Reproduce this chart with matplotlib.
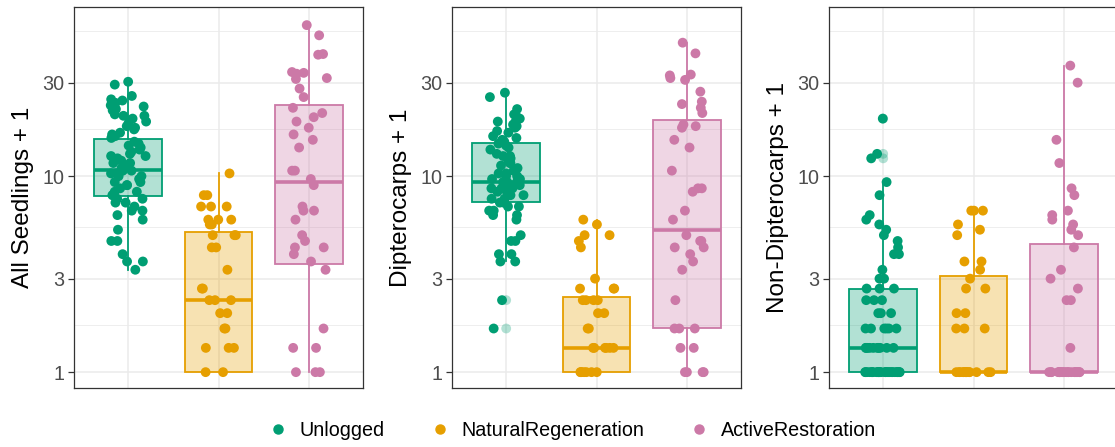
import numpy as np
import matplotlib
matplotlib.use("Agg")
import matplotlib.pyplot as plt
from matplotlib.lines import Line2D

plt.rcParams['font.family'] = ['Liberation Sans', 'DejaVu Sans']

groups = ["Unlogged", "NaturalRegeneration", "ActiveRestoration"]
colors = ["#009E73", "#E69F00", "#CC79A7"]
panel_labels = ["All Seedlings + 1", "Dipterocarps + 1", "Non-Dipterocarps + 1"]

# site means (per plot) + 1
all_unlogged = [29.33, 30.33, 25.67, 24.67, 23.67, 22.67, 21.67, 20.67, 20.33, 19.67,
                20.33, 18.67, 17.33, 16.67, 16, 14.67, 15, 14.33, 13.67, 13,
                12.67, 12.33, 11.67, 11.33, 10.67, 10.67, 10, 9.67, 10, 9.33,
                9, 8.67, 8, 7.67, 7.33, 7.33, 7, 6.33, 6, 5.33,
                4.67, 4.67, 4, 3.67, 3.67, 3.33, 24.33, 23, 22, 19,
                18, 17.67, 16.33, 15.67, 14, 13.33, 12, 11, 11.67, 10.33,
                10.33, 9.33, 9, 8.33, 8.33, 7.67, 8, 6.67, 6.67, 12.67]
all_natural = [10.33, 8, 8, 7, 7, 7, 6, 6, 6, 5.67, 5.67, 5, 5, 5, 4.33, 4.33,
               3.33, 2.67, 2.67, 2.33, 2.33, 2.33, 2, 2, 1.67, 1.67, 1.33, 1.33,
               1.33, 1, 1]
all_active = [59, 52.33, 42, 41.67, 34, 33.67, 33.33, 31.67, 31.33, 28,
              25.33, 22.33, 21, 20, 19, 17.67, 16.33, 15.33, 14, 10.67,
              10.67, 9.67, 9, 7, 6.67, 6.67, 6, 5, 4.67, 4.33,
              4.33, 4, 3.67, 3.33, 1.67, 1.33, 1.33, 1, 1, 1]

dipt_unlogged = [26.67, 25.33, 22, 20.67, 20, 19, 19, 18, 17, 16,
                 15.33, 14.33, 14.67, 12.67, 11.67, 13, 12.33, 11.33, 10.67, 10.33,
                 9.33, 9.33, 9, 8.67, 8.33, 8.33, 8, 7.67, 7.33, 7,
                 6.67, 6.67, 6.33, 6, 4.67, 5, 4.67, 4, 4, 3.67,
                 3.67, 2.33, 1.67, 19.67, 18.33, 17.67, 16.67, 15.67, 15, 14,
                 13.67, 12, 11, 10.67, 10, 10, 9.67, 9.67, 9, 8.67,
                 8.67, 8, 7.67, 7.33, 7, 6.33, 11.67, 12.67, 9.33, 10.33]
dipt_natural = [6, 5.67, 5, 5, 4.67, 4.33, 3, 2.67, 2.67, 2.67, 2.33, 2.33,
                2.33, 2.33, 2, 2, 1.67, 1.67, 1.33, 1.33, 1.33, 1.33, 1.33, 1.33,
                1, 1, 1, 1, 1, 1, 1]
dipt_active = [48, 42.33, 33, 32.67, 31.67, 31, 27, 24, 23.33, 22.33,
               21, 18.33, 18, 17.67, 15.33, 14, 10.67, 8.33, 8.67, 8.67,
               6.67, 6, 4.67, 4.67, 4.33, 4, 3.67, 3.33, 2.33, 1.67,
               1.67, 1.33, 1.33, 1, 1, 1, 4.33, 5, 1.67, 1]

nondipt_unlogged = [19.67, 13, 12.33, 9.33, 8, 6.33, 6, 5.67, 5.33, 5,
                    4.67, 4.33, 4, 4, 3.33, 3, 3, 2.67, 2.67, 2.67,
                    2.33, 2.33, 2.33, 2, 2, 2] + [1.67] * 6 + [1.33] * 10 + [1] * 28
nondipt_natural = [6.67, 6.67, 6.67, 5.67, 5.33, 5, 3.67, 3.67, 3.33, 3,
                   2.67, 2.67, 2, 2, 1.67, 1.67, 1.67] + [1] * 14
nondipt_active = [36.67, 30, 15.33, 11.67, 8.67, 8, 6.67, 6.33, 6, 5.67,
                  5.33, 5, 4.33, 3.33, 3, 2.67, 2.33, 2.33, 1.33] + [1] * 21

panel_data = [[all_unlogged, all_natural, all_active],
              [dipt_unlogged, dipt_natural, dipt_active],
              [nondipt_unlogged, nondipt_natural, nondipt_active]]

# box summaries (log scale), one row per panel: Unlogged, Natural, Active
box_q1 = [[7.96, 1, 3.58], [7.37, 1, 1.67], [1, 1, 1]]
box_med = [[10.8, 2.33, 9.35], [9.35, 1.33, 5.34], [1.33, 1, 1]]
box_q3 = [[15.4, 5.17, 23.0], [14.7, 2.42, 19.3], [2.66, 3.08, 4.51]]
box_lo = [[3.33, 1, 1], [3.67, 1, 1], [1, 1, 1]]
box_hi = [[30.33, 10.33, 59], [26.67, 6, 48], [9.33, 6.67, 36.67]]
box_out = [[[], [], []], [[2.33, 1.67], [], []], [[19.67, 13, 12.33], [], []]]

W, H = 1115, 447
fig = plt.figure(figsize=(W / 100, H / 100), dpi=100)
lefts = [74, 452, 829]
ax_w = 289
ax_bottom, ax_top = 388, 7

rng = np.random.default_rng(11)
major = [1, 3, 10, 30]
minor = [np.sqrt(3), np.sqrt(30), np.sqrt(300), np.sqrt(3000)]

for p in range(3):
    ax = fig.add_axes([lefts[p] / W, 1 - ax_bottom / H, ax_w / W, (ax_bottom - ax_top) / H])
    ax.set_yscale('log')
    ax.set_ylim(0.83, 73)
    ax.set_xlim(0.4, 3.6)

    for y in minor:
        ax.axhline(y, color="#EBEBEB", lw=0.6, zorder=0)
    for y in major:
        ax.axhline(y, color="#EBEBEB", lw=1.1, zorder=0)
    for x in [1, 2, 3]:
        ax.axvline(x, color="#EBEBEB", lw=1.1, zorder=0)

    for g in range(3):
        c = colors[g]
        stats = [dict(q1=box_q1[p][g], med=box_med[p][g], q3=box_q3[p][g],
                      whislo=box_lo[p][g], whishi=box_hi[p][g], fliers=[])]
        ax.bxp(stats, positions=[g + 1], widths=0.75, patch_artist=True,
               showcaps=False, showfliers=False,
               boxprops=dict(facecolor=matplotlib.colors.to_rgba(c, 0.3), edgecolor=c, lw=1.3),
               whiskerprops=dict(color=c, lw=1.3),
               medianprops=dict(color=c, lw=2.6, solid_capstyle='butt'),
               zorder=2)
        out = box_out[p][g]
        if out:
            ax.scatter([g + 1] * len(out), out, s=50, color=c, alpha=0.3,
                       edgecolors='none', zorder=3)
        vals = np.array(panel_data[p][g])
        xs = g + 1 + rng.uniform(-0.2, 0.2, len(vals))
        ax.scatter(xs, vals, s=50, color=c, edgecolors='none', zorder=4)

    ax.set_yticks(major)
    ax.set_yticklabels([str(v) for v in major])
    ax.yaxis.set_minor_locator(matplotlib.ticker.NullLocator())
    ax.set_xticks([])
    ax.tick_params(axis='y', length=4, width=0.9, color="#333333",
                   labelcolor="#4D4D4D", labelsize=14.2, pad=3)
    for s in ax.spines.values():
        s.set_color("#333333")
        s.set_linewidth(0.9)
    ax.set_ylabel(panel_labels[p], fontsize=17.5, color="black", labelpad=6)

handles = [Line2D([], [], ls='none', marker='o', markersize=6.5, color=c) for c in colors]
fig.legend(handles, groups, loc='center', bbox_to_anchor=(0.513, 0.038), ncol=3,
           frameon=False, fontsize=14.2, handlelength=1.0, handletextpad=0.6,
           columnspacing=2.3, labelcolor="black")

fig.savefig("out.png", dpi=100)
